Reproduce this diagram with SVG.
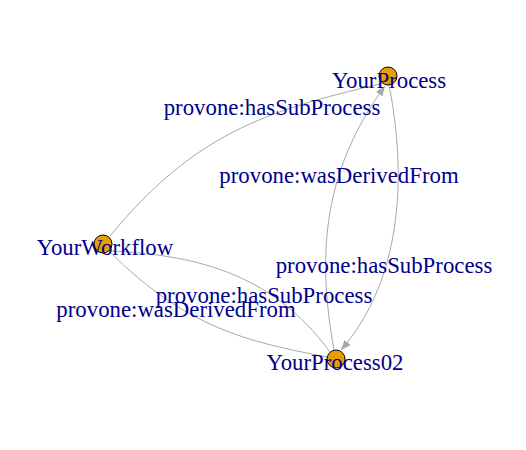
<svg xmlns="http://www.w3.org/2000/svg" width="526" height="450" viewBox="0 0 526 450">
  <style>
    .edge { fill: none; stroke: #A9A9A9; stroke-width: 1; }
    .node { fill: #E69F00; stroke: #000000; stroke-width: 1; }
    .lbl { font-family: "Liberation Serif", "Times New Roman", serif; font-size: 22.8px; fill: #00008B; text-anchor: middle; }
  </style>
  <defs>
    <marker id="arrow" viewBox="0 0 10 8" markerWidth="10" markerHeight="8" refX="10" refY="4" orient="auto" markerUnits="userSpaceOnUse">
      <path d="M0,0 L10,4 L0,8 Z" fill="#A9A9A9"/>
    </marker>
  </defs>
  <rect width="526" height="450" fill="#FFFFFF"/>
  <g id="connectors">
    <path class="edge" d="M110,236 C192.7,135.8 263,111 380,84"/>
    <path class="edge" d="M334,350 C318,260 320,175 385,86" marker-end="url(#arrow)"/>
    <path class="edge" d="M389,85 C400,140 415,265 341,350" marker-end="url(#arrow)"/>
    <path class="edge" d="M111,251 C190,255 270,270 330,352"/>
    <path class="edge" d="M109,251 C186.8,328.8 248.6,341.8 327,357"/>
    <text class="lbl" x="272" y="115">provone:hasSubProcess</text>
    <text class="lbl" x="339" y="183">provone:wasDerivedFrom</text>
    <text class="lbl" x="384" y="273">provone:hasSubProcess</text>
    <text class="lbl" x="264" y="303">provone:hasSubProcess</text>
    <text class="lbl" x="176" y="317">provone:wasDerivedFrom</text>
  </g>
  <g id="node-YourProcess">
    <circle class="node" cx="388" cy="76" r="9"/>
    <text class="lbl" x="389" y="88">YourProcess</text>
  </g>
  <g id="node-YourWorkflow">
    <circle class="node" cx="103" cy="244" r="9"/>
    <text class="lbl" x="105" y="255">YourWorkflow</text>
  </g>
  <g id="node-YourProcess02">
    <circle class="node" cx="336" cy="359" r="9"/>
    <text class="lbl" x="335" y="370">YourProcess02</text>
  </g>
</svg>
